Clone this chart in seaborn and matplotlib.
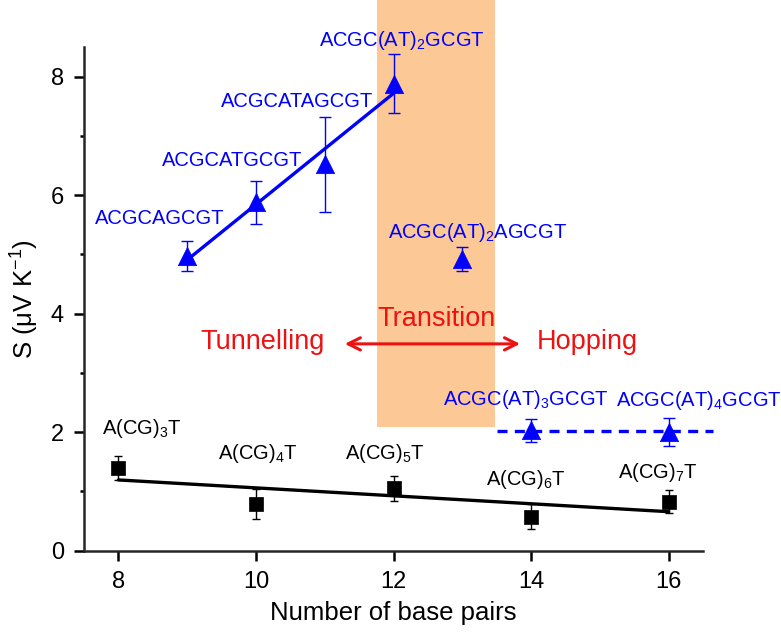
import numpy as np
import pandas as pd
import matplotlib
matplotlib.use("Agg")
import matplotlib.pyplot as plt
from matplotlib.patches import Rectangle
import seaborn as sns

# blue series (ACGC(AT)nGCGT type), triangles
blue_bp = [9, 10, 11, 12, 13, 14, 16]
blue_s = [4.97, 5.88, 6.52, 7.88, 4.92, 2.03, 2.00]
blue_err = [0.25, 0.36, 0.80, 0.50, 0.20, 0.19, 0.24]
blue_labels = ["ACGCAGCGT", "ACGCATGCGT", "ACGCATAGCGT", "ACGC(AT)$_2$GCGT",
               "ACGC(AT)$_2$AGCGT", "ACGC(AT)$_3$GCGT", "ACGC(AT)$_4$GCGT"]

# black series A(CG)nT, squares
black_bp = [8, 10, 12, 14, 16]
black_s = [1.39, 0.79, 1.05, 0.57, 0.83]
black_err = [0.20, 0.25, 0.21, 0.21, 0.20]
black_labels = ["A(CG)$_3$T", "A(CG)$_4$T", "A(CG)$_5$T", "A(CG)$_6$T", "A(CG)$_7$T"]

# label offsets (points)
blue_off = [(-20, 27), (-17, 30), (-20, 45), (6, 31), (11, 19), (-4, 22), (22, 23)]
black_off = [(17, 29), (1, 36), (-6, 25), (-4, 27), (-8, 21)]

blue_col = "#0000FF"
red_col = "#EE1111"
band_col = "#FCC896"

sns.set_style("ticks")
plt.rcParams["font.family"] = ["Liberation Sans", "DejaVu Sans"]
plt.rcParams["mathtext.fontset"] = "custom"
plt.rcParams["mathtext.rm"] = "Liberation Sans"
plt.rcParams["mathtext.it"] = "Liberation Sans:italic"
plt.rcParams["mathtext.default"] = "regular"
plt.rcParams["text.color"] = "black"
plt.rcParams["axes.labelcolor"] = "black"
plt.rcParams["xtick.color"] = "black"
plt.rcParams["ytick.color"] = "black"

fig = plt.figure(figsize=(7.81, 6.34), dpi=100)
ax = fig.add_axes([0.1076, 0.1314, 0.7926, 0.7945])

# transition band, runs above the axes
ax.add_patch(Rectangle((11.76, 2.08), 13.47 - 11.76, 8.0, color=band_col,
                       lw=0, clip_on=False, zorder=0))

blue = pd.DataFrame({"bp": blue_bp, "S": blue_s, "err": blue_err})
black = pd.DataFrame({"bp": black_bp, "S": black_s, "err": black_err})

# linear fits
tun = blue[blue.bp <= 12]
k, b = np.polyfit(tun.bp, tun.S, 1)
fit_blue = pd.DataFrame({"bp": [tun.bp.min(), tun.bp.max()]})
fit_blue["S"] = k * fit_blue.bp + b
k2, b2 = np.polyfit(black.bp, black.S, 1)
fit_black = pd.DataFrame({"bp": [black.bp.min(), black.bp.max()]})
fit_black["S"] = k2 * fit_black.bp + b2

sns.lineplot(data=fit_blue, x="bp", y="S", color=blue_col, lw=2.4, ax=ax, zorder=3)
sns.lineplot(data=fit_black, x="bp", y="S", color="black", lw=2.4, ax=ax, zorder=3)

hop = blue[blue.bp >= 14]
ax.plot([13.5, 16.65], [hop.S.mean()] * 2, color=blue_col, lw=2.4,
        ls=(0, (3, 2.2)), clip_on=False, zorder=3)

ax.errorbar(blue.bp, blue.S, yerr=blue.err, fmt="none", ecolor=blue_col,
            elinewidth=1.0, capsize=4, capthick=1.0, zorder=2)
ax.errorbar(black.bp, black.S, yerr=black.err, fmt="none", ecolor="black",
            elinewidth=1.0, capsize=3, capthick=1.0, zorder=2)

sns.scatterplot(data=blue, x="bp", y="S", marker="^", s=175, color=blue_col,
                edgecolor=blue_col, linewidth=0.5, ax=ax, zorder=4)
sns.scatterplot(data=black, x="bp", y="S", marker="s", s=100, color="black",
                edgecolor="black", linewidth=0.5, ax=ax, zorder=4)

for x, y, t, o in zip(blue_bp, blue_s, blue_labels, blue_off):
    ax.annotate(t, (x, y), xytext=o, textcoords="offset points", ha="center",
                va="center", color=blue_col, fontsize=14.5, annotation_clip=False)
for x, y, t, o in zip(black_bp, black_s, black_labels, black_off):
    ax.annotate(t, (x, y), xytext=o, textcoords="offset points", ha="center",
                va="center", color="black", fontsize=14.5)

ax.text(10.09, 3.53, "Tunnelling", color=red_col, fontsize=19.5, ha="center", va="center")
ax.text(12.62, 3.91, "Transition", color=red_col, fontsize=19.5, ha="center", va="center")
ax.text(14.82, 3.53, "Hopping", color=red_col, fontsize=19.5, ha="center", va="center")
ax.annotate("", xy=(11.25, 3.49), xytext=(13.88, 3.49),
            arrowprops=dict(arrowstyle="<->", color=red_col, lw=2.2,
                            mutation_scale=22))

ax.set_xlim(7.5, 16.5)
ax.set_ylim(0, 8.5)
ax.set_xticks([8, 10, 12, 14, 16])
ax.set_yticks([0, 2, 4, 6, 8])
ax.set_yticks([1, 3, 5, 7], minor=True)
ax.tick_params(axis="both", which="major", direction="out", length=7.5, width=1.8,
               labelsize=17, pad=7)
ax.tick_params(axis="y", which="minor", direction="out", length=3, width=1.8)
ax.set_xlabel("Number of base pairs", fontsize=18.5, labelpad=6)
ax.set_ylabel("S (μV K$^{-1}$)", fontsize=18.5, labelpad=7)
sns.despine(ax=ax)
for sp in ["left", "bottom"]:
    ax.spines[sp].set_linewidth(1.8)

fig.savefig("out.png", dpi=100)
